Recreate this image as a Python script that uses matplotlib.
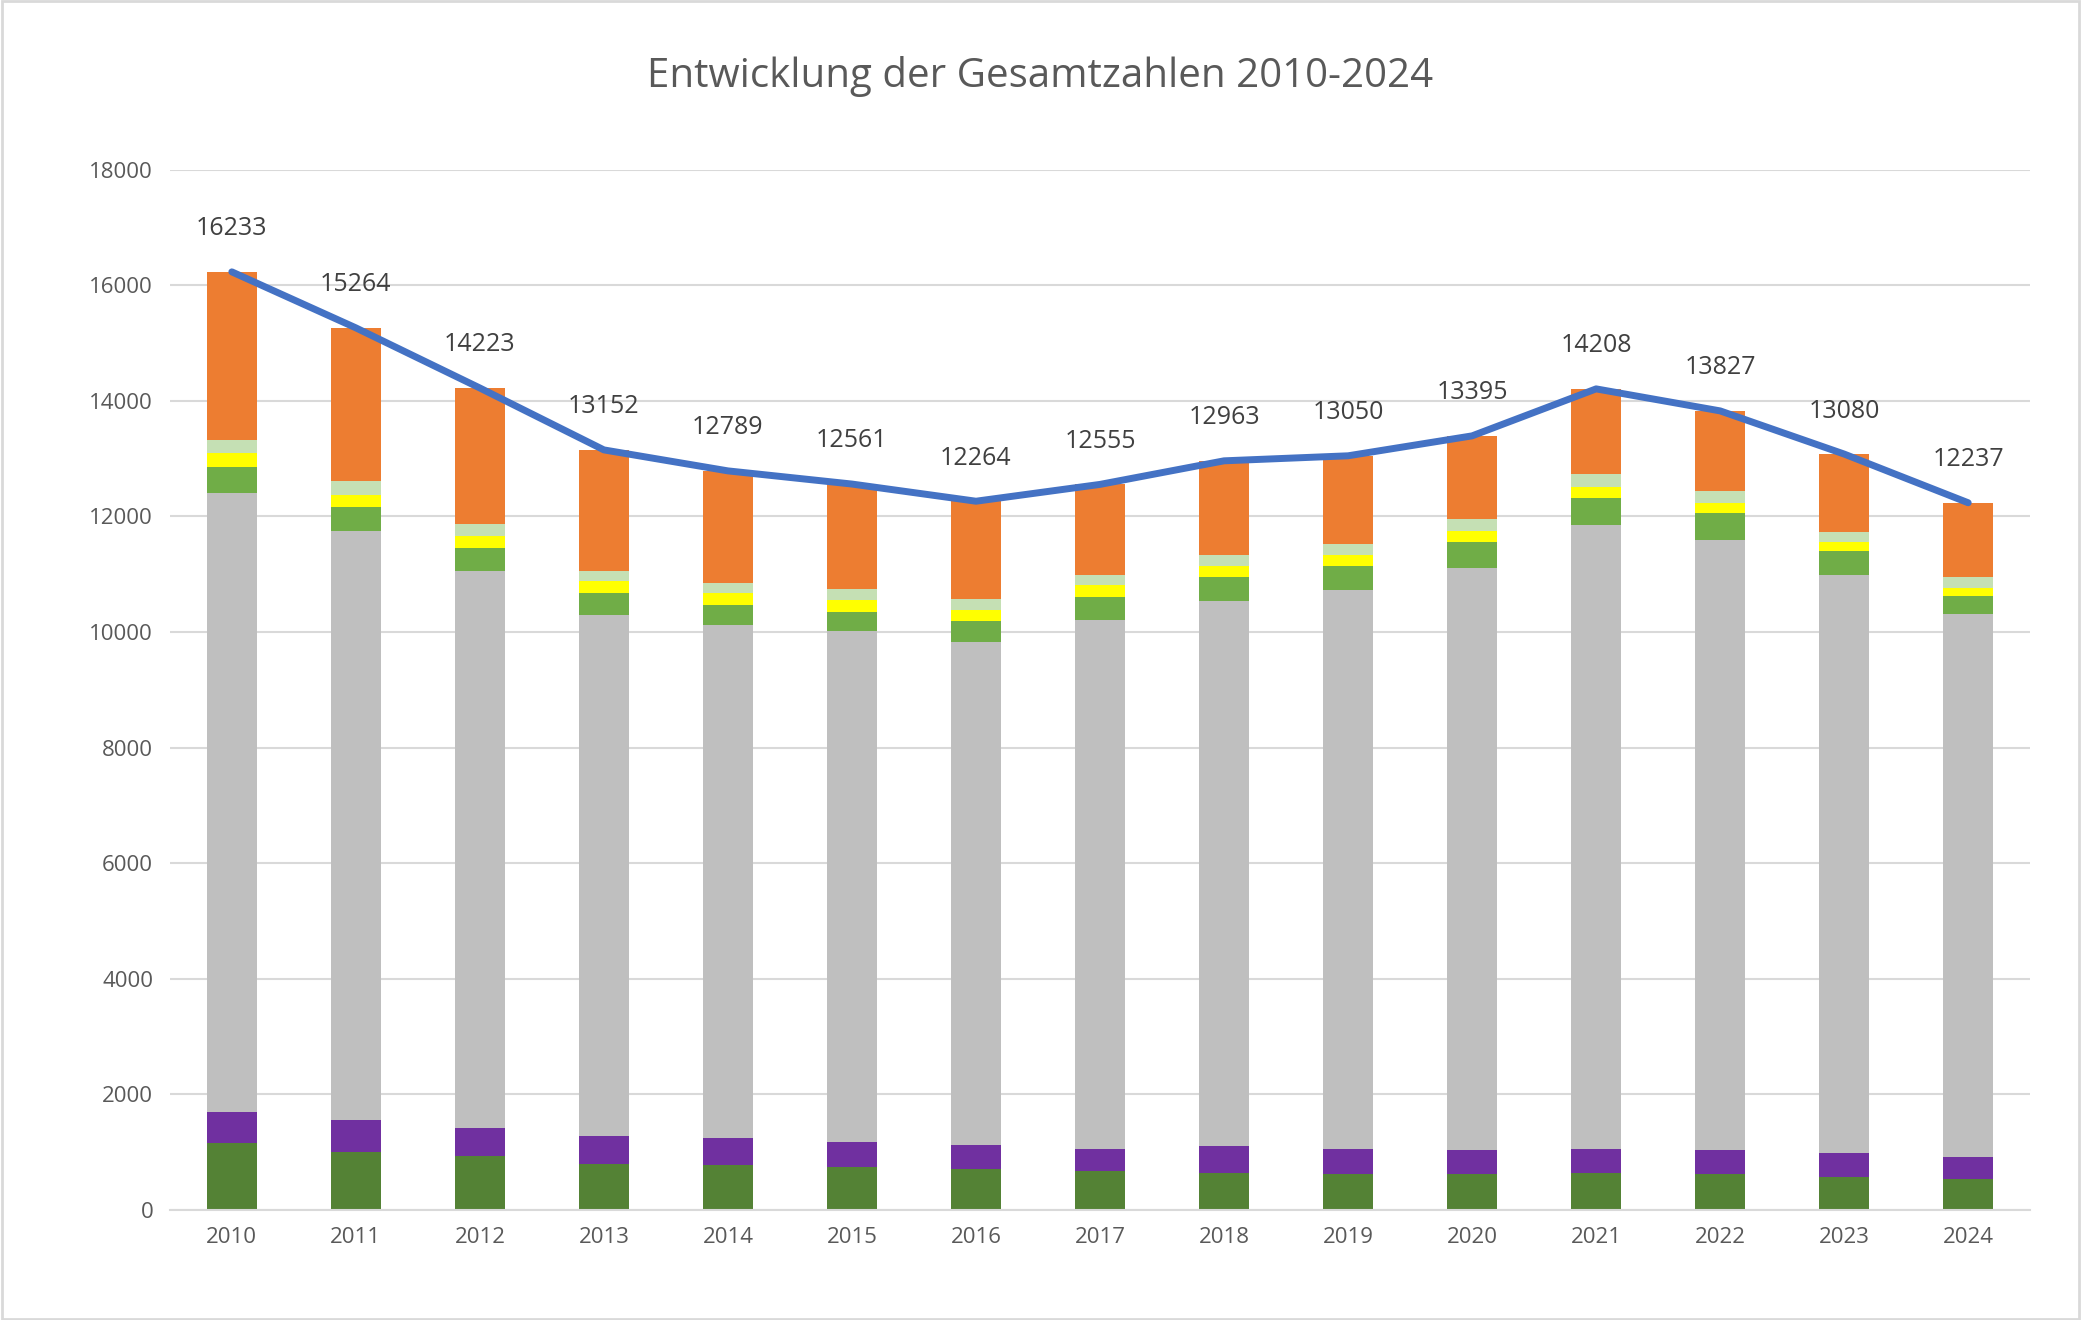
import matplotlib.pyplot as plt
import numpy as np

plt.rcParams['font.family'] = ['Open Sans', 'DejaVu Sans']

years = [str(y) for y in range(2010, 2025)]
totals = [16233, 15264, 14223, 13152, 12789, 12561, 12264, 12555, 12963, 13050, 13395, 14208, 13827, 13080, 12237]

# stacked segments, bottom to top
dark_green = [1150, 1010, 940, 800, 780, 735, 710, 665, 645, 620, 620, 645, 620, 575, 530]
purple = [550, 550, 480, 480, 460, 435, 415, 390, 460, 435, 415, 410, 415, 410, 390]
grey = [10700, 10190, 9640, 9020, 8880, 8840, 8700, 9160, 9430, 9665, 10080, 10790, 10560, 10010, 9390]
green = [460, 410, 390, 370, 340, 345, 365, 390, 415, 415, 435, 480, 460, 415, 320]
yellow = [230, 210, 210, 210, 210, 205, 185, 205, 185, 205, 205, 185, 185, 140, 140]
light_green = [230, 250, 210, 180, 180, 185, 205, 185, 205, 185, 205, 230, 205, 185, 185]
orange = [2913, 2638, 2354, 2087, 1930, 1817, 1681, 1560, 1623, 1525, 1435, 1468, 1382, 1345, 1282]

segments = [
    (dark_green, '#548235'),
    (purple, '#7030A0'),
    (grey, '#BFBFBF'),
    (green, '#70AD47'),
    (yellow, '#FFFF00'),
    (light_green, '#C5E0B4'),
    (orange, '#ED7D31'),
]

fig = plt.figure(figsize=(20.81, 13.20), dpi=100)
ax = fig.add_axes([0.0816, 0.0834, 0.894, 0.788])

x = np.arange(len(years))
bottom = np.zeros(len(years))
for vals, col in segments:
    ax.bar(x, vals, bottom=bottom, width=0.4, color=col, zorder=2)
    bottom += np.array(vals)

ax.plot(x, totals, color='#4472C4', lw=5, zorder=3, solid_capstyle='round')
for xi, t in zip(x, totals):
    ax.annotate(str(t), (xi, t), xytext=(0, 22), textcoords='offset points',
                ha='center', va='bottom', fontsize=18, color='#404040')

ax.set_ylim(0, 18000)
ax.set_xlim(-0.5, len(years) - 0.5)
ax.set_yticks(range(0, 18001, 2000))
ax.set_xticks(x)
ax.set_xticklabels(years)
ax.tick_params(labelsize=16, colors='#595959', length=0, pad=12)
ax.yaxis.grid(True, color='#D9D9D9', lw=1.5, zorder=0)
for s in ['top', 'right', 'left']:
    ax.spines[s].set_visible(False)
ax.spines['bottom'].set_color('#D9D9D9')
ax.spines['bottom'].set_linewidth(1.5)

fig.text(0.5, 0.942, 'Entwicklung der Gesamtzahlen 2010-2024', ha='center', va='center',
         fontsize=29, color='#595959')
fig.patches.append(plt.Rectangle((0.001, 0.001), 0.998, 0.998, transform=fig.transFigure,
                                 fill=False, edgecolor='#D9D9D9', lw=2))

fig.savefig('out.png', dpi=100)
